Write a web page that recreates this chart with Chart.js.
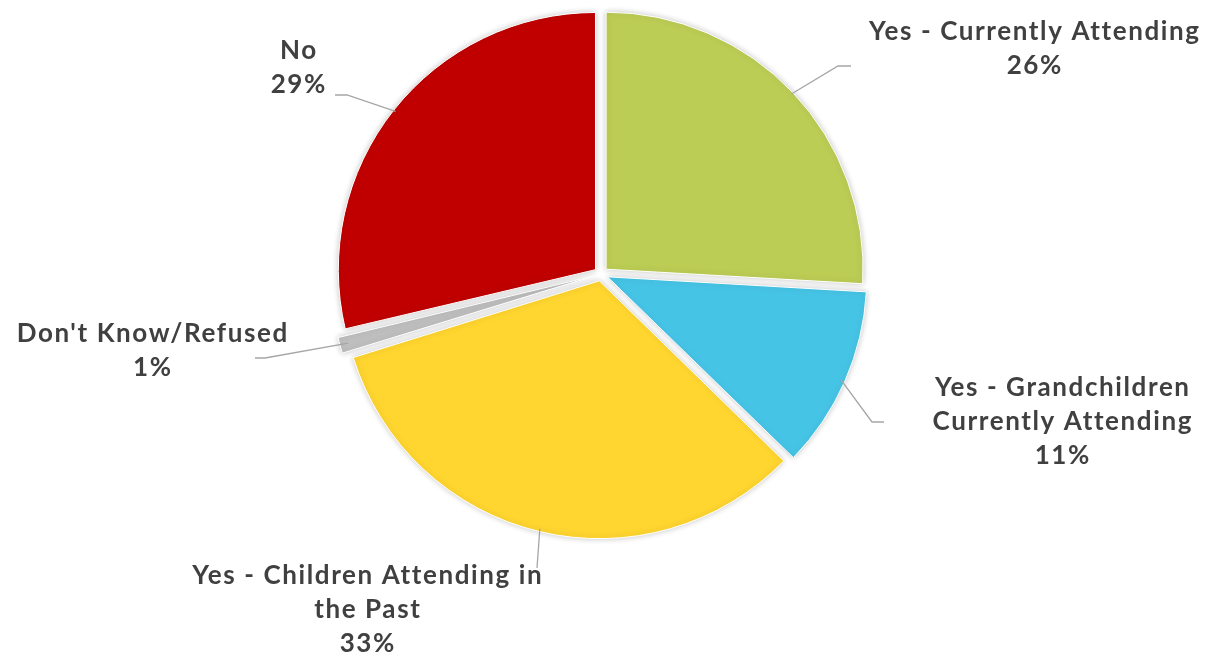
<!DOCTYPE html>
<html>
<head>
<meta charset="utf-8">
<script src="https://cdn.jsdelivr.net/npm/chart.js@4.4.0/dist/chart.umd.min.js"></script>
<style>
html, body { margin: 0; padding: 0; background: #fff; }
#wrap { width: 1205px; height: 657px; }
</style>
</head>
<body>
<div id="wrap"><canvas id="pieChart"></canvas></div>
<script>
// 数据
const categories = ['Yes - Currently Attending', 'Yes - Grandchildren Currently Attending', 'Yes - Children Attending in the Past', "Don't Know/Refused", 'No'];
const shares = [25.9, 11.4, 32.9, 1.1, 28.7];
const percentLabels = ['26%', '11%', '33%', '1%', '29%'];
const labelLines = [
    ['Yes - Currently Attending'],
    ['Yes - Grandchildren', 'Currently Attending'],
    ['Yes - Children Attending in', 'the Past'],
    ["Don't Know/Refused"],
    ['No']
];
const sliceColors = ['#BCCD55', '#46C4E6', '#FFD52F', '#BFBFBF', '#C00000'];

// 标签位置 (文字中心 x, 第一行中心 y, 引导线拐点, 引导线终点)
const labelLayout = [
    { x: 1034, y: 32, elbow: [838, 66], end: [851, 66] },
    { x: 1062, y: 388, elbow: [872, 422], end: [884, 422] },
    { x: 367, y: 576, elbow: [537, 568], end: [537, 568] },
    { x: 152, y: 334, elbow: [265, 358], end: [255, 358] },
    { x: 298, y: 51, elbow: [347, 95], end: [335, 95] }
];
const lineHeight = 34;

// 阴影
const shadowPlugin = {
    id: 'sliceShadow',
    beforeDatasetsDraw(chart) {
        const ctx = chart.ctx;
        ctx.save();
        ctx.shadowColor = 'rgba(0,0,0,0.22)';
        ctx.shadowBlur = 6;
    },
    afterDatasetsDraw(chart) {
        chart.ctx.restore();
    }
};

// 引导线和标签
const labelPlugin = {
    id: 'pieLabels',
    afterDraw(chart) {
        const ctx = chart.ctx;
        const arcs = chart.getDatasetMeta(0).data;
        ctx.save();
        arcs.forEach((arc, i) => {
            const p = arc.getProps(['x', 'y', 'startAngle', 'endAngle', 'outerRadius']);
            const mid = (p.startAngle + p.endAngle) / 2;
            const shift = arc.options.offset / 4;
            const r = p.outerRadius + shift - 2;
            const sx = p.x + Math.cos(mid) * r;
            const sy = p.y + Math.sin(mid) * r;
            const l = labelLayout[i];
            ctx.strokeStyle = '#A6A6A6';
            ctx.lineWidth = 1.3;
            ctx.beginPath();
            ctx.moveTo(sx, sy);
            ctx.lineTo(l.elbow[0], l.elbow[1]);
            ctx.lineTo(l.end[0], l.end[1]);
            ctx.stroke();

            ctx.fillStyle = '#404040';
            ctx.font = 'bold 26px Lato';
            ctx.letterSpacing = '1.6px';
            ctx.textAlign = 'center';
            ctx.textBaseline = 'middle';
            const lines = labelLines[i].concat([percentLabels[i]]);
            lines.forEach((t, k) => {
                ctx.fillText(t, l.x + 0.8, l.y + k * lineHeight);
            });
        });
        ctx.restore();
    }
};

const ctx = document.getElementById('pieChart').getContext('2d');
const pieChart = new Chart(ctx, {
    type: 'pie',
    data: {
        labels: categories,
        datasets: [{
            data: shares,
            backgroundColor: sliceColors,
            borderColor: '#ffffff',
            borderWidth: 1,
            offset: 28
        }]
    },
    options: {
        responsive: true,
        maintainAspectRatio: false,
        animation: false,
        radius: 257,
        layout: {
            padding: { left: 0, right: 3, top: 0, bottom: 109 }
        },
        plugins: {
            legend: { display: false },
            tooltip: { enabled: false }
        }
    },
    plugins: [shadowPlugin, labelPlugin]
});
</script>
</body>
</html>
